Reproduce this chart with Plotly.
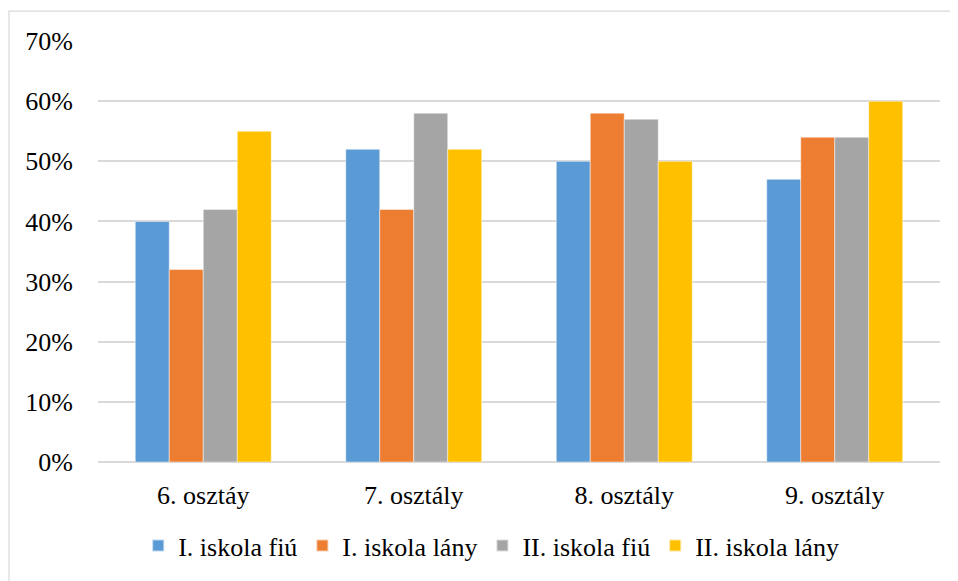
import plotly.graph_objects as go

categories = ["6. osztáy", "7. osztály", "8. osztály", "9. osztály"]
series_names = ["I. iskola fiú", "I. iskola lány", "II. iskola fiú", "II. iskola lány"]
i_fiu = [0.40, 0.52, 0.50, 0.47]
i_lany = [0.32, 0.42, 0.58, 0.54]
ii_fiu = [0.42, 0.58, 0.57, 0.54]
ii_lany = [0.55, 0.52, 0.50, 0.60]
colors = ["#5B9BD5", "#ED7D31", "#A5A5A5", "#FFC000"]
y_ticks = [0, 0.1, 0.2, 0.3, 0.4, 0.5, 0.6, 0.7]
y_tick_labels = ["0%", "10%", "20%", "30%", "40%", "50%", "60%", "70%"]

font_family = "Liberation Serif, serif"
fs = 26

fig = go.Figure()
for name, vals, col in zip(series_names, [i_fiu, i_lany, ii_fiu, ii_lany], colors):
    fig.add_trace(go.Bar(
        x=categories, y=vals, name=name,
        marker=dict(color=col, line=dict(color="rgba(255,255,255,0.6)", width=0.8)),
    ))

# page has an 8px body margin, so the figure is offset by 8px
W, H = 950, 573
ml, mr, mt, mb = 90, 18, 33, 117
pw, ph = W - ml - mr, H - mt - mb

fig.update_layout(
    width=W, height=H,
    margin=dict(l=ml, r=mr, t=mt, b=mb, pad=0),
    paper_bgcolor="white", plot_bgcolor="white",
    barmode="group", bargap=0.354, bargroupgap=0,
    font=dict(family=font_family, size=fs, color="#000000"),
    showlegend=True,
    legend=dict(
        orientation="h", x=0.467, xanchor="center",
        y=-84 / ph, yanchor="middle",
        font=dict(family=font_family, size=fs, color="#000000"),
        traceorder="normal", itemsizing="constant",
        tracegroupgap=0,
    ),
    xaxis=dict(
        showgrid=False, showline=False, zeroline=False,
        ticks="", ticklabelstandoff=15,
        tickfont=dict(family=font_family, size=fs, color="#000000"),
    ),
    yaxis=dict(
        range=[0, 0.7], tickvals=y_ticks, ticktext=y_tick_labels,
        showgrid=True, gridcolor="#D9D9D9", gridwidth=1.5,
        zeroline=True, zerolinecolor="#D9D9D9", zerolinewidth=1.5,
        showline=False, ticks="", ticklabelstandoff=24,
        tickfont=dict(family=font_family, size=fs, color="#000000"),
    ),
    shapes=[dict(
        type="rect", xref="paper", yref="paper",
        x0=(1 - ml) / pw, x1=1.2,
        y0=-0.5, y1=(H - mb - 3) / ph,
        line=dict(color="#D9D9D9", width=1.2),
        fillcolor="rgba(0,0,0,0)", layer="below",
    )],
)

fig.write_html("out.html")
